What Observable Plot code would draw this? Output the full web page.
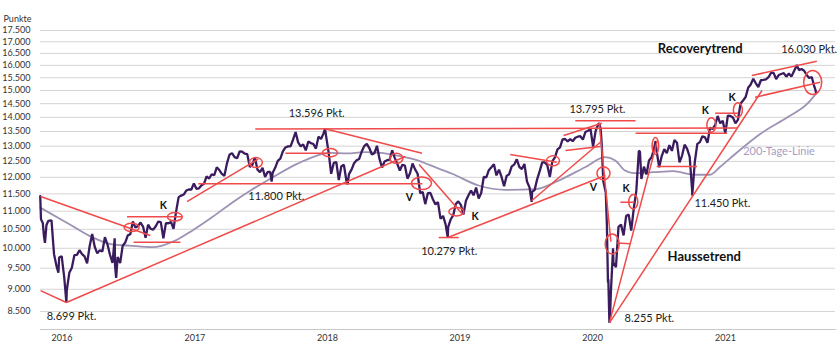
<!DOCTYPE html>
<html><head><meta charset="utf-8">
<script src="https://cdn.jsdelivr.net/npm/d3@7"></script>
<script src="https://cdn.jsdelivr.net/npm/@observablehq/plot@0.6"></script>
<style>body{margin:0;background:#fff;}</style>
</head><body><div id="chart"></div>
<script>
// ---------- DATA (weekly Friday closes) ----------
const dec2015 = [["2015-12-01",11430],["2015-12-03",10789],["2015-12-04",10752],["2015-12-08",10673],["2015-12-11",10340],["2015-12-14",10139],["2015-12-18",10608],["2015-12-23",10727]];
const dax2016 = [10743,9849,9545,9765,9798, 9286,8967,9388,9513, 9825,9831,9950,9851, 9795,9622,10051,10373,10039, 9870,9952,9916,10287, 10103,9834,9631,9557, 9776,9629,10066,10147,10337, 10367,10713,10544,10587, 10684,10573,10276,10627,10511, 10490,10580,10711,10696, 10259,10667,10664,10699, 10513,10986,11404,11450,11481];
const dax2017 = [11599,11630,11630,11814, 11651,11666,11757,11804, 12027,11963,12095,12064,12313, 12225,12109,12049,12438, 12717,12770,12638,12602, 12823,12816,12753,12733,12325, 12389,12631,12240,12163, 12297,12014,12165,12168, 12143,12304,12519,12592,12829, 12956,12992,12991,13217, 13479,13127,12994,13060, 12861,13153,13104,13073,12918];
const dax2018 = [13320,13245,13434,13341, 12785,12107,12452,12483, 11914,12346,12390,11887,12097, 12241,12442,12540,12580, 12820,13001,13077,12938, 12724,12767,13011,12580,12306, 12496,12541,12561,12860, 12616,12424,12211,12394,12364, 11959,12124,12431,12247, 12111,11524,11554,11201, 11519,11529,11341,11193,11257, 10788,10866,10634,10559];
const dax2019 = [10768,10887,11205,11281, 11181,10907,11300,11457, 11602,11458,11686,11364,11526, 12010,11999,12222,12315, 12412,12060,12239,12011,11727, 12045,12096,12340,12399, 12569,12323,12260,12419, 11872,11694,11563,11611,11939, 12192,12469,12468,12381, 12013,12512,12634,12895, 12962,13229,13242,13164,13236, 13167,13283,13319,13337];
const dax2020 = [13219,13483,13526,13577,12982, 13514,13744,13579,11890, 11542,9232,8929,9633, 9526,10565,10626,10336, 10862,10904,10465,11074,11587, 12848,11949,12331,12089, 12528,12633,12920,12838,12313, 12674,12901,12765,13033, 12843,13203,13116,12469, 12689,13051,12909,12646,11556, 12480,13076,13137,13335, 13299,13114,13631,13587];
const dax2021 = [13719,14050,13788,13874,13433, 14057,14050,13993,13786, 13920,14502,14621,14749, 15107,15234,15460,15280,15136, 15400,15417,15437,15520, 15693,15693,15448,15607, 15650,15688,15540,15669,15544, 15761,15977,15808,15852, 15781,15609,15490,15531, 15156];
const firstFridays = ["2016-01-01","2017-01-06","2018-01-05","2019-01-04","2020-01-03","2021-01-01"];
const extremes = [["2016-01-20",9391],["2016-02-11",8699],["2016-06-23",10257],["2016-06-27",9268],["2017-08-29",11868],["2018-01-23",13596],["2018-03-26",11787],["2018-12-27",10279],["2019-08-15",11266],["2020-02-17",13795],["2020-02-24",13035],["2020-03-09",10625],["2020-03-12",9161],["2020-03-16",8255],["2020-03-18",8442],["2020-03-26",10000],["2020-06-08",12820],["2020-07-21",13171],["2020-10-30",11450],["2021-08-13",16030],["2021-10-04",15036],["2021-10-06",14900]];

// 200-Tage-Linie
const ma200 = [["2015-12-01",11100],["2016-02-17",10650],["2016-04-13",10330],["2016-06-16",10100],["2016-08-01",10070],["2016-10-04",10030],["2016-11-01",10070],["2016-12-07",10200],["2017-01-23",10470],["2017-03-18",10830],["2017-05-13",11250],["2017-07-02",11600],["2017-09-04",12020],["2017-11-07",12420],["2018-01-01",12690],["2018-02-07",12780],["2018-03-25",12760],["2018-05-10",12800],["2018-06-25",12780],["2018-08-10",12690],["2018-10-03",12540],["2018-11-08",12380],["2019-01-08",12110],["2019-03-22",11750],["2019-06-04",11620],["2019-08-25",11640],["2019-10-28",11900],["2020-01-09",12315],["2020-03-04",12636],["2020-04-01",12530],["2020-04-28",12210],["2020-05-21",12128],["2020-07-15",12160],["2020-09-08",12190],["2020-11-02",12080],["2020-12-18",12080],["2021-01-15",12330],["2021-03-03",12800],["2021-05-06",13420],["2021-07-19",14000],["2021-09-12",14500],["2021-10-06",14880]];

// Trendlinien [von, Wert, bis, Wert]
const trendLines = [
 ["2015-12-02",11423,"2016-09-29",10332],
 ["2015-12-02",8969,"2016-02-11",8699],
 ["2016-02-11",8699,"2018-09-01",12658],
 ["2016-07-27",10840,"2016-12-25",10840],
 ["2016-08-14",10155,"2016-12-21",10155],
 ["2017-01-08",11275,"2017-07-23",12577],
 ["2017-02-08",11800,"2018-10-18",11800],
 ["2017-07-15",13590,"2021-03-03",13620],
 ["2017-10-06",12766,"2018-02-07",12766],
 ["2018-01-23",13596,"2018-10-17",12766],
 ["2018-10-09",12401,"2019-02-05",10920],
 ["2018-12-02",10279,"2019-01-26",10279],
 ["2018-12-27",10279,"2020-03-05",12054],
 ["2019-06-17",12723,"2019-10-23",12474],
 ["2019-08-15",11300,"2020-02-20",13132],
 ["2019-11-11",13359,"2020-02-24",13790],
 ["2019-11-16",12856,"2020-02-20",12989],
 ["2019-12-13",13880,"2020-05-27",13880],
 ["2020-02-17",13795,"2020-03-20",10173],
 ["2020-03-16",8255,"2020-07-26",13190],
 ["2020-03-16",8255,"2021-05-10",15000],
 ["2020-07-24",12337,"2020-11-12",12337],
 ["2020-05-27",13440,"2021-02-03",13440],
 ["2021-01-01",14149,"2021-03-06",14149],
 ["2021-04-12",15587,"2021-10-08",16172],
 ["2021-04-21",14742,"2021-10-17",15321],
 ["2020-04-06",10135,"2020-05-12",10115],
 ["2020-04-15",11255,"2020-05-24",11255]
];
// Markierungen [Datum, Wert, Form]
const rings = [["2016-08-10",10538,"wide"],["2016-12-07",10829,"wide"],["2017-07-18",12448,"round"],["2018-02-07",12766,"wide"],["2018-08-09",12583,"round"],["2018-10-17",11801,"wideL"],["2019-01-21",10970,"wide"],["2019-10-14",12505,"round"],["2020-03-01",12107,"circle"],["2020-03-25",10096,"tallL"],["2020-05-22",11255,"tall"],["2020-07-22",12989,"tallN"],["2020-12-23",13708,"tall"],["2021-03-06",14247,"tall"],["2021-09-28",15290,"big"]];
const pointLabels = [["2016-02-25",8390,"8.699 Pkt."],["2017-09-11",11423,"11.800 Pkt."],["2017-12-31",14137,"13.596 Pkt."],["2018-12-31",9916,"10.279 Pkt."],["2020-02-12",14283,"13.795 Pkt."],["2020-07-04",8346,"8.255 Pkt."],["2021-01-21",11217,"11.450 Pkt."],["2021-09-17",16665,"16.030 Pkt."]];
const trendLabels = [["2020-11-21",16709,"Recoverytrend"],["2020-12-02",9790,"Haussetrend"]];
const signalLabels = [["2016-11-04",11160,"K"],["2019-03-12",10850,"K"],["2020-05-01",11659,"K"],["2020-12-05",14247,"K"],["2021-02-17",14732,"K"],["2018-09-12",11393,"V"],["2020-02-01",11690,"V"]];
const maLabel = [["2021-06-26",12822,"200-Tage-Linie"]];
const yTicks = [8500,9000,9500,10000,10500,11000,11500,12000,12500,13000,13500,14000,14500,15000,15500,16000,16500,17000,17500];
const yearTicks = ["2016-01-01","2017-01-01","2018-01-01","2019-01-01","2020-01-01","2021-01-01"];

// ---------- BUILD ----------
const parse = d3.utcParse("%Y-%m-%d");
const weeks = [dax2016,dax2017,dax2018,dax2019,dax2020,dax2021];
let dax = [];
weeks.forEach((arr, k) => { const t0 = parse(firstFridays[k]); arr.forEach((v,i)=>dax.push({date: d3.utcDay.offset(t0, 7*i), value: v})); });
dec2015.concat(extremes).forEach(([d,v]) => dax.push({date: parse(d), value: v}));
dax.sort((a,b)=>a.date-b.date);
const ma = ma200.map(([d,v])=>({date: parse(d), value: v}));
const links = trendLines.map(([a,va,b,vb])=>({x1: parse(a), y1: va, x2: parse(b), y2: vb}));
const toObj = arr => arr.map(([d,v,t])=>({date: parse(d), value: v, text: t}));
const de = d3.formatLocale({decimal: ",", thousands: ".", grouping: [3], currency: ["", "€"]});

const RED = "#f04a4a";
const shapes = {wide:[7.5,4.2], wideL:[10,6.3], round:[6.5,5], circle:[6.5,6.5], tall:[4.5,7.2], tallN:[3.3,8.5], tallL:[7,10], big:[9,12]};
function ringMark(index, scales) {
  const g = d3.create("svg:g").attr("fill","none").attr("stroke",RED).attr("stroke-width",1.5);
  g.selectAll("ellipse").data(toObj(rings)).join("ellipse")
    .attr("cx", d=>scales.x(d.date)).attr("cy", d=>scales.y(d.value))
    .attr("rx", d=>shapes[d.text][0]).attr("ry", d=>shapes[d.text][1]);
  return g.node();
}

const chart = Plot.plot({
  width: 840, height: 351,
  marginLeft: 40, marginRight: 5, marginTop: 0, marginBottom: 22,
  style: {fontFamily: "Lato, 'Open Sans', sans-serif", background: "#fff", color: "#333"},
  x: {type: "utc", domain: [parse("2016-01-01"), parse("2022-01-01")], range: [51, 51 + 6*132.7]},
  y: {type: "log", domain: [8500, 17500], range: [311, 30]},
  marks: [
    Plot.gridY(yTicks, {stroke: "#d4d4d4", strokeOpacity: 1, strokeWidth: 1}),
    Plot.frame({anchor: "bottom", stroke: "#c8c8c8"}),
    Plot.axisY({ticks: yTicks, tickSize: 0, tickPadding: 10, tickFormat: de.format(","), fontSize: 9, label: null}),
    Plot.axisX({ticks: yearTicks.map(parse), tickSize: 0, tickPadding: 5, tickFormat: d3.utcFormat("%Y"), textAnchor: "start", fontSize: 9, label: null}),
    Plot.text(["Punkte"], {text: d=>d, frameAnchor: "top-left", dx: -37, dy: 15, textAnchor: "start", fontSize: 9, fill: "#333"}),
    Plot.line(ma, {x: "date", y: "value", stroke: "#9e92b4", strokeWidth: 1.8, curve: "monotone-x"}),
    Plot.line(dax, {x: "date", y: "value", stroke: "#3a1c5e", strokeWidth: 2.3, strokeLinejoin: "miter"}),
    Plot.link(links, {x1: "x1", y1: "y1", x2: "x2", y2: "y2", stroke: RED, strokeWidth: 1.5}),
    ringMark,
    Plot.text(toObj(pointLabels), {x: "date", y: "value", text: "text", fontSize: 11, fill: "#222"}),
    Plot.text(toObj(trendLabels), {x: "date", y: "value", text: "text", fontSize: 13, fontWeight: "bold", fill: "#111"}),
    Plot.text(toObj(signalLabels), {x: "date", y: "value", text: "text", fontSize: 10.5, fontWeight: "bold", fill: "#111"}),
    Plot.text(toObj(maLabel), {x: "date", y: "value", text: "text", fontSize: 11, fill: "#a99cc0"})
  ]
});
document.getElementById("chart").appendChild(chart);
</script></body></html>
